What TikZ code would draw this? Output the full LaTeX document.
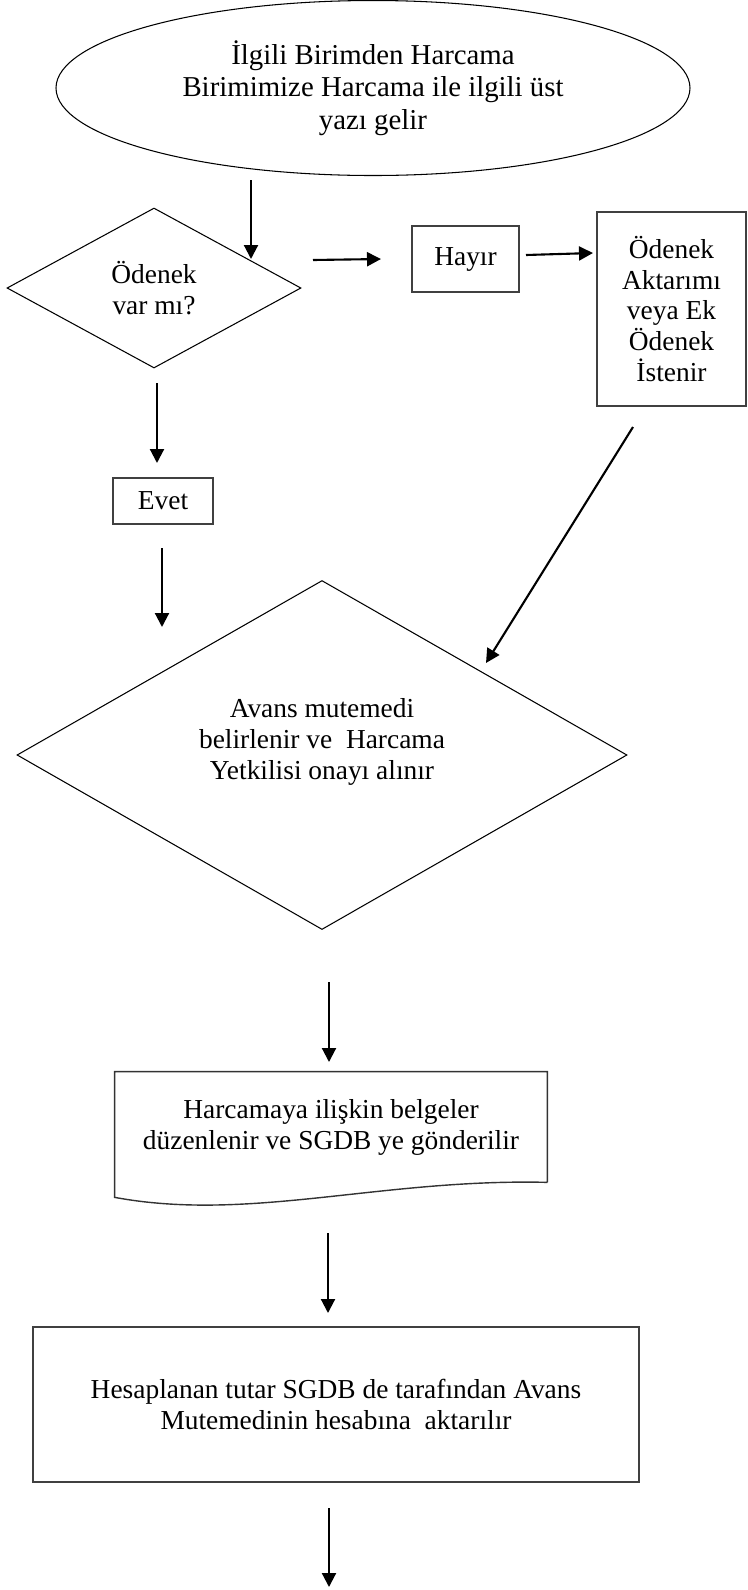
\documentclass[tikz,border=0pt]{standalone}
\usepackage{fontspec}
\setmainfont{Liberation Serif}
\usepackage{tikz}
\usetikzlibrary{arrows.meta}
\usetikzlibrary{shapes.geometric}
\tikzset{
    >={Triangle[length=0.28cm,width=0.28cm]},
    flow/.style={->, draw=black, line width=1.2pt},
    terminal/.style={ellipse, draw=black, line width=0.6pt, inner sep=0pt, align=center},
    decision/.style={diamond, draw=black, line width=0.6pt, inner sep=0pt, aspect=1.75, align=center},
    answer/.style={rectangle, draw=black!75, line width=0.8pt, inner sep=0pt, align=center},
    process/.style={rectangle, draw=black!75, line width=0.8pt, inner sep=0pt, align=center},
    docline/.style={draw=black!80, line width=0.8pt},
    every node/.style={font=\fontsize{15.6}{17.6}\selectfont},
}

\begin{document}
\begin{tikzpicture}
\useasboundingbox (0cm,0cm) rectangle (14.94cm,-31.8cm);
% \draw[step=1cm, very thin, gray] (0cm,0cm) grid (14.94cm,-31.8cm);
\node[terminal, minimum width=12.68cm, minimum height=3.5cm, font=\fontsize{16.4}{18.6}\selectfont] (start) at (7.46cm,-1.76cm)
    {İlgili Birimden Harcama\\Birimimize Harcama ile ilgili üst\\yazı gelir};
\node[decision, minimum width=5.88cm, minimum height=3.2cm] (odenek) at (3.08cm,-5.76cm)
    {Ödenek\\var mı?};
\node[answer, minimum width=2.14cm, minimum height=1.32cm] (hayir) at (9.31cm,-5.18cm) {Hayır};
\node[process, minimum width=2.98cm, minimum height=3.88cm] (ekodenek) at (13.43cm,-6.18cm)
    {Ödenek\\Aktarımı\\veya Ek\\Ödenek\\İstenir};
\node[answer, minimum width=2cm, minimum height=0.92cm] (evet) at (3.26cm,-10.02cm) {Evet};
\node[decision, minimum width=12.2cm, minimum height=6.98cm] (avans) at (6.44cm,-15.1cm) {};
\node[align=center] (avanstext) at (6.44cm,-14.84cm)
    {Avans mutemedi\\belirlenir ve\ \ Harcama\\Yetkilisi onayı alınır};
\node[inner sep=0pt, minimum width=8.64cm, minimum height=2.2cm, align=center] (belge) at (6.62cm,-22.54cm)
    {Harcamaya ilişkin belgeler\\düzenlenir ve SGDB ye gönderilir};
\draw[docline] (belge.south east) -- (belge.north east) -- (belge.north west)
    -- ([yshift=-0.3cm]belge.south west) .. controls +(2.7cm,-0.5cm) and +(-3.34cm,0.08cm) .. (belge.south east);
\node[process, minimum width=12.12cm, minimum height=3.1cm] (aktar) at (6.72cm,-28.09cm)
    {Hesaplanan tutar SGDB de tarafından Avans\\Mutemedinin hesabına\ \ aktarılır};

% arrow ends
\coordinate (a1) at (5.02cm,-3.6cm);   \coordinate (b1) at (5.02cm,-5.18cm);
\coordinate (a2) at (6.26cm,-5.2cm);   \coordinate (b2) at (7.62cm,-5.18cm);
\coordinate (a3) at (10.52cm,-5.1cm);  \coordinate (b3) at (11.86cm,-5.06cm);
\coordinate (a4) at (12.66cm,-8.54cm); \coordinate (b4) at (9.72cm,-13.26cm);
\coordinate (a5) at (3.14cm,-7.66cm);  \coordinate (b5) at (3.14cm,-9.26cm);
\coordinate (a6) at (3.24cm,-10.96cm); \coordinate (b6) at (3.24cm,-12.54cm);
\coordinate (a7) at (6.58cm,-19.64cm); \coordinate (b7) at (6.58cm,-21.24cm);
\coordinate (a8) at (6.56cm,-24.66cm); \coordinate (b8) at (6.56cm,-26.26cm);
\coordinate (a9) at (6.58cm,-30.16cm); \coordinate (b9) at (6.58cm,-31.74cm);
\draw[flow] (a1) -- (b1);
\draw[flow] (a2) -- (b2);
\draw[flow] (a3) -- (b3);
\draw[flow] (a4) -- (b4);
\draw[flow] (a5) -- (b5);
\draw[flow] (a6) -- (b6);
\draw[flow] (a7) -- (b7);
\draw[flow] (a8) -- (b8);
\draw[flow] (a9) -- (b9);
\end{tikzpicture}
\end{document}
